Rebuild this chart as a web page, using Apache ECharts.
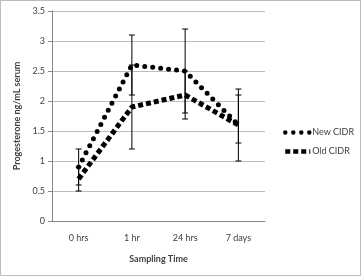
<!DOCTYPE html>
<html>
<head>
<meta charset="utf-8">
<script src="https://cdn.jsdelivr.net/npm/echarts@6/dist/echarts.min.js"></script>
<style>
  html, body { margin: 0; padding: 0; background: #fff; }
  #frame { position: absolute; left: 0; top: 0; width: 359px; height: 274px; border: 1px solid #bdbdbd; }
  #chart { position: absolute; left: 0; top: 0; width: 363px; height: 278px; }
</style>
</head>
<body>
<div id="frame"></div>
<div id="chart"></div>
<script>
const categories = ['0 hrs', '1 hr', '24 hrs', '7 days'];
const newCidr = [0.9, 2.6, 2.5, 1.6];
const oldCidr = [0.7, 1.9, 2.1, 1.6];
// error bar ranges [low, high]
const newErr = [[0.6, 1.2], [2.1, 3.1], [1.8, 3.2], [1.0, 2.2]];
const oldErr = [[0.5, 0.9], [1.2, 2.6], [1.7, 2.5], [1.3, 2.1]];

const chart = echarts.init(document.getElementById('chart'));
const font = 'Lato, "Open Sans", sans-serif';
const txt = '#404040';

function errorSeries(name, ranges) {
    return {
        name: name,
        type: 'custom',
        silent: true,
        z: 1,
        data: ranges.map((r, i) => [i, r[0], r[1]]),
        renderItem: function (params, api) {
            const lo = api.coord([api.value(0), api.value(1)]);
            const hi = api.coord([api.value(0), api.value(2)]);
            const w = 3;
            const st = { stroke: '#000', lineWidth: 1 };
            return {
                type: 'group',
                children: [
                    { type: 'line', shape: { x1: lo[0], y1: lo[1], x2: hi[0], y2: hi[1] }, style: st },
                    { type: 'line', shape: { x1: lo[0] - w, y1: lo[1], x2: lo[0] + w, y2: lo[1] }, style: st },
                    { type: 'line', shape: { x1: hi[0] - w, y1: hi[1], x2: hi[0] + w, y2: hi[1] }, style: st }
                ]
            };
        }
    };
}

chart.setOption({
    animation: false,
    grid: { left: 52, right: 98, top: 11, bottom: 57 },
    legend: {
        orient: 'vertical',
        left: 278,
        top: 123,
        itemWidth: 25,
        itemHeight: 8,
        itemGap: 10,
        itemStyle: { opacity: 0 },
        lineStyle: { width: 4.5 },
        textStyle: { fontFamily: font, fontSize: 9, color: txt, padding: [0, 0, 0, -3] },
        data: ['New CIDR', 'Old CIDR']
    },
    xAxis: {
        type: 'category',
        data: categories,
        name: 'Sampling Time',
        nameLocation: 'middle',
        nameGap: 34,
        nameTextStyle: { fontFamily: font, fontSize: 9, fontWeight: 'bold', color: txt },
        axisLine: { lineStyle: { color: '#868686' } },
        axisTick: { show: false },
        axisLabel: { fontFamily: font, fontSize: 9, color: txt, margin: 13 }
    },
    yAxis: {
        type: 'value',
        min: 0,
        max: 3.5,
        interval: 0.5,
        name: 'Progesterone ng/mL serum',
        nameLocation: 'middle',
        nameGap: 29,
        nameTextStyle: { fontFamily: font, fontSize: 9, fontWeight: 'bold', color: txt },
        axisLine: { show: true, lineStyle: { color: '#868686' } },
        axisTick: { show: true, length: 4, lineStyle: { color: '#868686' } },
        axisLabel: { fontFamily: font, fontSize: 9, color: txt, margin: 7 },
        splitLine: { lineStyle: { color: '#bdbdbd' } }
    },
    series: [
        {
            name: 'New CIDR',
            type: 'line',
            data: newCidr,
            symbol: 'none',
            color: '#000',
            z: 3,
            lineStyle: { color: '#000', width: 5, type: [0, 8], cap: 'round' }
        },
        {
            name: 'Old CIDR',
            type: 'line',
            data: oldCidr,
            symbol: 'none',
            color: '#000',
            z: 3,
            lineStyle: { color: '#000', width: 5, type: [5, 3], cap: 'butt' }
        },
        errorSeries('New CIDR err', newErr),
        errorSeries('Old CIDR err', oldErr)
    ]
});
</script>
</body>
</html>
